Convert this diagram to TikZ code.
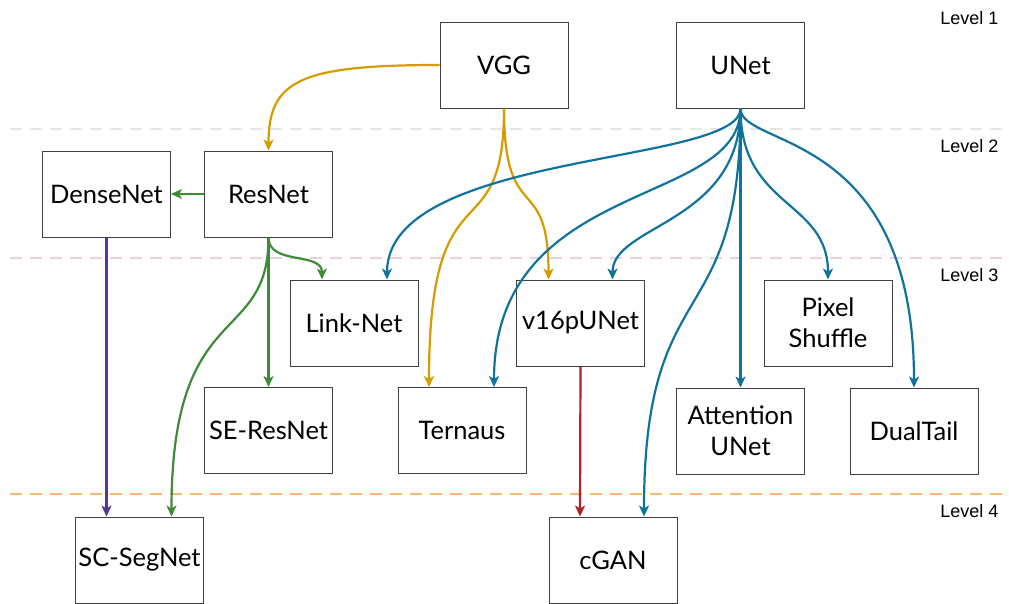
\documentclass[tikz,border=0pt]{standalone}
\usepackage{fontspec}
\setmainfont{Lato}
\newfontfamily\levelfont{Liberation Sans}
\usetikzlibrary{arrows.meta}

\definecolor{vggcol}{HTML}{D79B00}
\definecolor{unetcol}{HTML}{10739E}
\definecolor{rescol}{HTML}{3E8B37}
\definecolor{densecol}{HTML}{5A3596}
\definecolor{v16col}{HTML}{B3202A}
\definecolor{lvlone}{HTML}{E6E6E6}
\definecolor{lvltwo}{HTML}{E6D0DE}
\definecolor{lvlthree}{HTML}{FFB570}

\begin{document}
\begin{tikzpicture}[x=1pt,y=-1pt,
    net/.style={draw=black!75,fill=white,line width=1pt,minimum width=128pt,minimum height=86pt,
        inner sep=0pt,align=center,font=\fontsize{25.5}{31}\selectfont},
    lvl/.style={anchor=east,font=\levelfont\fontsize{18}{20}\selectfont},
    sep/.style={line width=2.5pt,dash pattern=on 12pt off 8pt},
    link/.style={line width=2.2pt,-{Stealth[length=11pt,width=10pt,inset=3pt]}}]
    \useasboundingbox (0,0) rectangle (1009,603);

    % level separators
    \draw[sep,lvlone] (10,129) -- (1009,129);
    \draw[sep,lvltwo] (10,258) -- (1009,258);
    \draw[sep,lvlthree] (10,494) -- (1009,494);
    \node[lvl] (L1) at (1002,18) {Level 1};
    \node[lvl] (L2) at (1002,146) {Level 2};
    \node[lvl] (L3) at (1002,275) {Level 3};
    \node[lvl] (L4) at (1002,511) {Level 4};

    \node[net] (VGG) at (504,65) {VGG};
    \node[net] (UNet) at (740.5,65) {UNet};
    \node[net] (DenseNet) at (106.5,194) {DenseNet};
    \node[net] (ResNet) at (268.5,194) {ResNet};
    \node[net] (LinkNet) at (354,323) {Link-Net};
    \node[net] (v16pUNet) at (580.5,323) {v16pUNet};
    \node[net] (PixelShuffle) at (828,323) {Pixel\\Shuffle};
    \node[net] (SEResNet) at (268.5,430.5) {SE-ResNet};
    \node[net] (Ternaus) at (462,430.5) {Ternaus};
    \node[net] (Attention) at (740.5,431) {Attention\\UNet};
    \node[net] (DualTail) at (914,431) {DualTail};
    \node[net] (SCSegNet) at (139.5,560) {SC-SegNet};
    \node[net] (cGAN) at (613,560) {cGAN};

    % VGG family
    \path[link,vggcol] (VGG.west) edge[out=180,in=90,out distance=140pt,in distance=70pt] (ResNet.north)
        (VGG.south) edge[out=-90,in=90,out distance=150pt,in distance=230pt] ([xshift=-33pt]Ternaus.north)
        (VGG.south) edge[out=-90,in=90,out distance=120pt,in distance=110pt] ([xshift=-32pt]v16pUNet.north);
    % ResNet family
    \path[link,rescol] (ResNet.west) edge (DenseNet.east)
        (ResNet.south) edge[out=-90,in=90,out distance=28pt,in distance=28pt] ([xshift=-32pt]LinkNet.north)
        (ResNet.south) edge (SEResNet.north)
        (ResNet.south) edge[out=-90,in=90,out distance=110pt,in distance=220pt] ([xshift=32pt]SCSegNet.north);
    \path[link,densecol] (DenseNet.south) edge ([xshift=-33pt]SCSegNet.north);
    \path[link,v16col] (v16pUNet.south) edge ([xshift=-33pt]cGAN.north);
    % UNet family
    \path[link,unetcol] (UNet.south) edge[out=-90,in=90,out distance=57pt,in distance=129pt] ([xshift=33pt]LinkNet.north)
        (UNet.south) edge[out=-90,in=90,out distance=100pt,in distance=210pt] ([xshift=32pt]Ternaus.north)
        (UNet.south) edge[out=-90,in=90,out distance=115pt,in distance=55pt] ([xshift=32pt]v16pUNet.north)
        (UNet.south) edge[out=-90,in=90,out distance=230pt,in distance=250pt] ([xshift=31pt]cGAN.north)
        (UNet.south) edge (Attention.north)
        (UNet.south) edge[out=-90,in=90,out distance=100pt,in distance=80pt] (PixelShuffle.north)
        (UNet.south) edge[out=-90,in=90,out distance=40pt,in distance=260pt] (DualTail.north);
\end{tikzpicture}
\end{document}
